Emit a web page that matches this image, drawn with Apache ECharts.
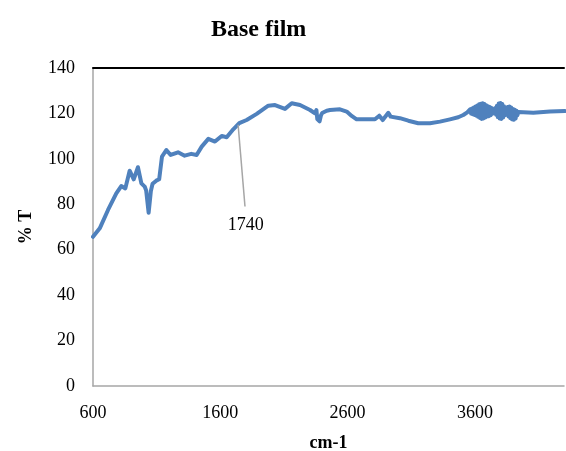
<!DOCTYPE html>
<html>
<head>
<meta charset="utf-8">
<script src="https://cdn.jsdelivr.net/npm/echarts@6/dist/echarts.min.js"></script>
<style>html,body{margin:0;padding:0;background:#fff}#c{width:566px;height:451px}</style>
</head>
<body>
<div id="c"></div>
<script>
var wavenumber = [600,653,718,783,822,854,888,920,953,980,1006,1018,1037,1055,1068,1097,1120,1142,1176,1210,1268,1320,1372,1414,1454,1506,1558,1611,1650,1702,1749,1807,1886,1977,2030,2108,2161,2226,2305,2344,2355,2362,2372,2380,2390,2400,2436,2462,2540,2593,2632,2671,2750,2815,2849,2876,2920,2938,3011,3077,3155,3247,3326,3404,3469,3509,3540,3548,3555,3562,3570,3577,3584,3591,3598,3605,3612,3619,3626,3633,3640,3647,3654,3661,3668,3675,3682,3689,3696,3703,3710,3717,3724,3731,3738,3745,3752,3759,3766,3773,3780,3787,3794,3801,3808,3815,3822,3829,3836,3843,3850,3857,3864,3871,3878,3885,3892,3899,3906,3913,3920,3927,3934,3941,3950,4059,4190,4307];
var transmittance = [65.7,69.4,77.5,84.8,88,87,94.8,91,96.3,89.2,87.8,86,76.3,86,89,90.4,91,101,103.9,101.7,102.9,101.4,102.2,101.7,105.4,108.8,107.6,110.1,109.5,113,115.7,117.1,119.8,123.4,123.7,122,124.5,123.7,121.5,120,121.5,117.5,117.8,116.5,119,120.2,121.2,121.5,121.8,120.8,118.9,117.4,117.4,117.4,119,117.1,120.3,118.6,117.9,116.8,115.7,115.7,116.4,117.4,118.3,119.3,120.5,121.3,120.2,121.8,120,122.2,119.6,122.6,119.3,123,119,123.5,118.5,124,118,124.3,117.6,124.5,117.8,124.2,118.2,123.6,118.6,123.2,118.8,122.8,119.2,122.4,119.8,121.8,120.2,122.4,119.4,123.4,118.4,124.4,117.8,124.6,117.6,124.2,118.2,123.2,119.2,122,120,122.8,118.6,123,118,122.6,117.4,122,117.2,121.6,117.8,121.2,119.2,120.6,120.2,120.3,120.8,121.1];
var xTicks = [600,1600,2600,3600];
var yTicks = [0,20,40,60,80,100,120,140];
var annotation = {label:'1740', from:[1740,115], to:[1794,79]};

var serif = '"Liberation Serif","Times New Roman",serif';
var pts = wavenumber.map(function(x,i){return [x, transmittance[i]];});
var chart = echarts.init(document.getElementById('c'));
chart.setOption({
  animation:false,
  title:{text:'Base film', left:206, top:13, textStyle:{fontFamily:serif, fontWeight:'bold', fontSize:24, color:'#000'}},
  grid:{left:93, right:2, top:68, bottom:65, outerBoundsMode:'none', containLabel:false},
  xAxis:[{
    type:'value', min:600, max:4300, interval:1000,
    name:'cm-1', nameLocation:'middle', nameGap:48,
    nameTextStyle:{fontFamily:serif, fontWeight:'bold', fontSize:18, color:'#000'},
    axisLine:{show:true, lineStyle:{color:'#a6a6a6', width:1.5}},
    axisTick:{show:false}, splitLine:{show:false},
    axisLabel:{fontFamily:serif, fontSize:18, color:'#000', margin:18,
      formatter:function(v){return xTicks.indexOf(v)>=0? String(v):'';}}
  },{
    type:'value', position:'top', min:600, max:4300,
    axisLine:{show:true, onZero:false, lineStyle:{color:'#000', width:2}},
    axisTick:{show:false}, axisLabel:{show:false}, splitLine:{show:false}
  }],
  yAxis:{
    type:'value', min:0, max:140, interval:20,
    name:'% T', nameLocation:'middle', nameGap:58,
    nameTextStyle:{fontFamily:serif, fontWeight:'bold', fontSize:18, color:'#000'},
    axisLine:{show:true, lineStyle:{color:'#a6a6a6', width:1.5}},
    axisTick:{show:false}, splitLine:{show:false},
    axisLabel:{fontFamily:serif, fontSize:18, color:'#000', margin:18,
      formatter:function(v){return yTicks.indexOf(v)>=0? String(v):'';}}
  },
  series:[{
    type:'line', data:pts, showSymbol:false, symbol:'none',
    lineStyle:{color:'#4f81bd', width:4, join:'round', cap:'round'},
    markLine:{
      silent:true, symbol:'none',
      lineStyle:{color:'#a6a6a6', width:1.5, type:'solid'},
      label:{show:true, position:'end', formatter:annotation.label, fontFamily:serif, fontSize:18, color:'#000', distance:10},
      data:[[{coord:annotation.from},{coord:annotation.to}]]
    }
  }]
});
</script>
</body>
</html>
